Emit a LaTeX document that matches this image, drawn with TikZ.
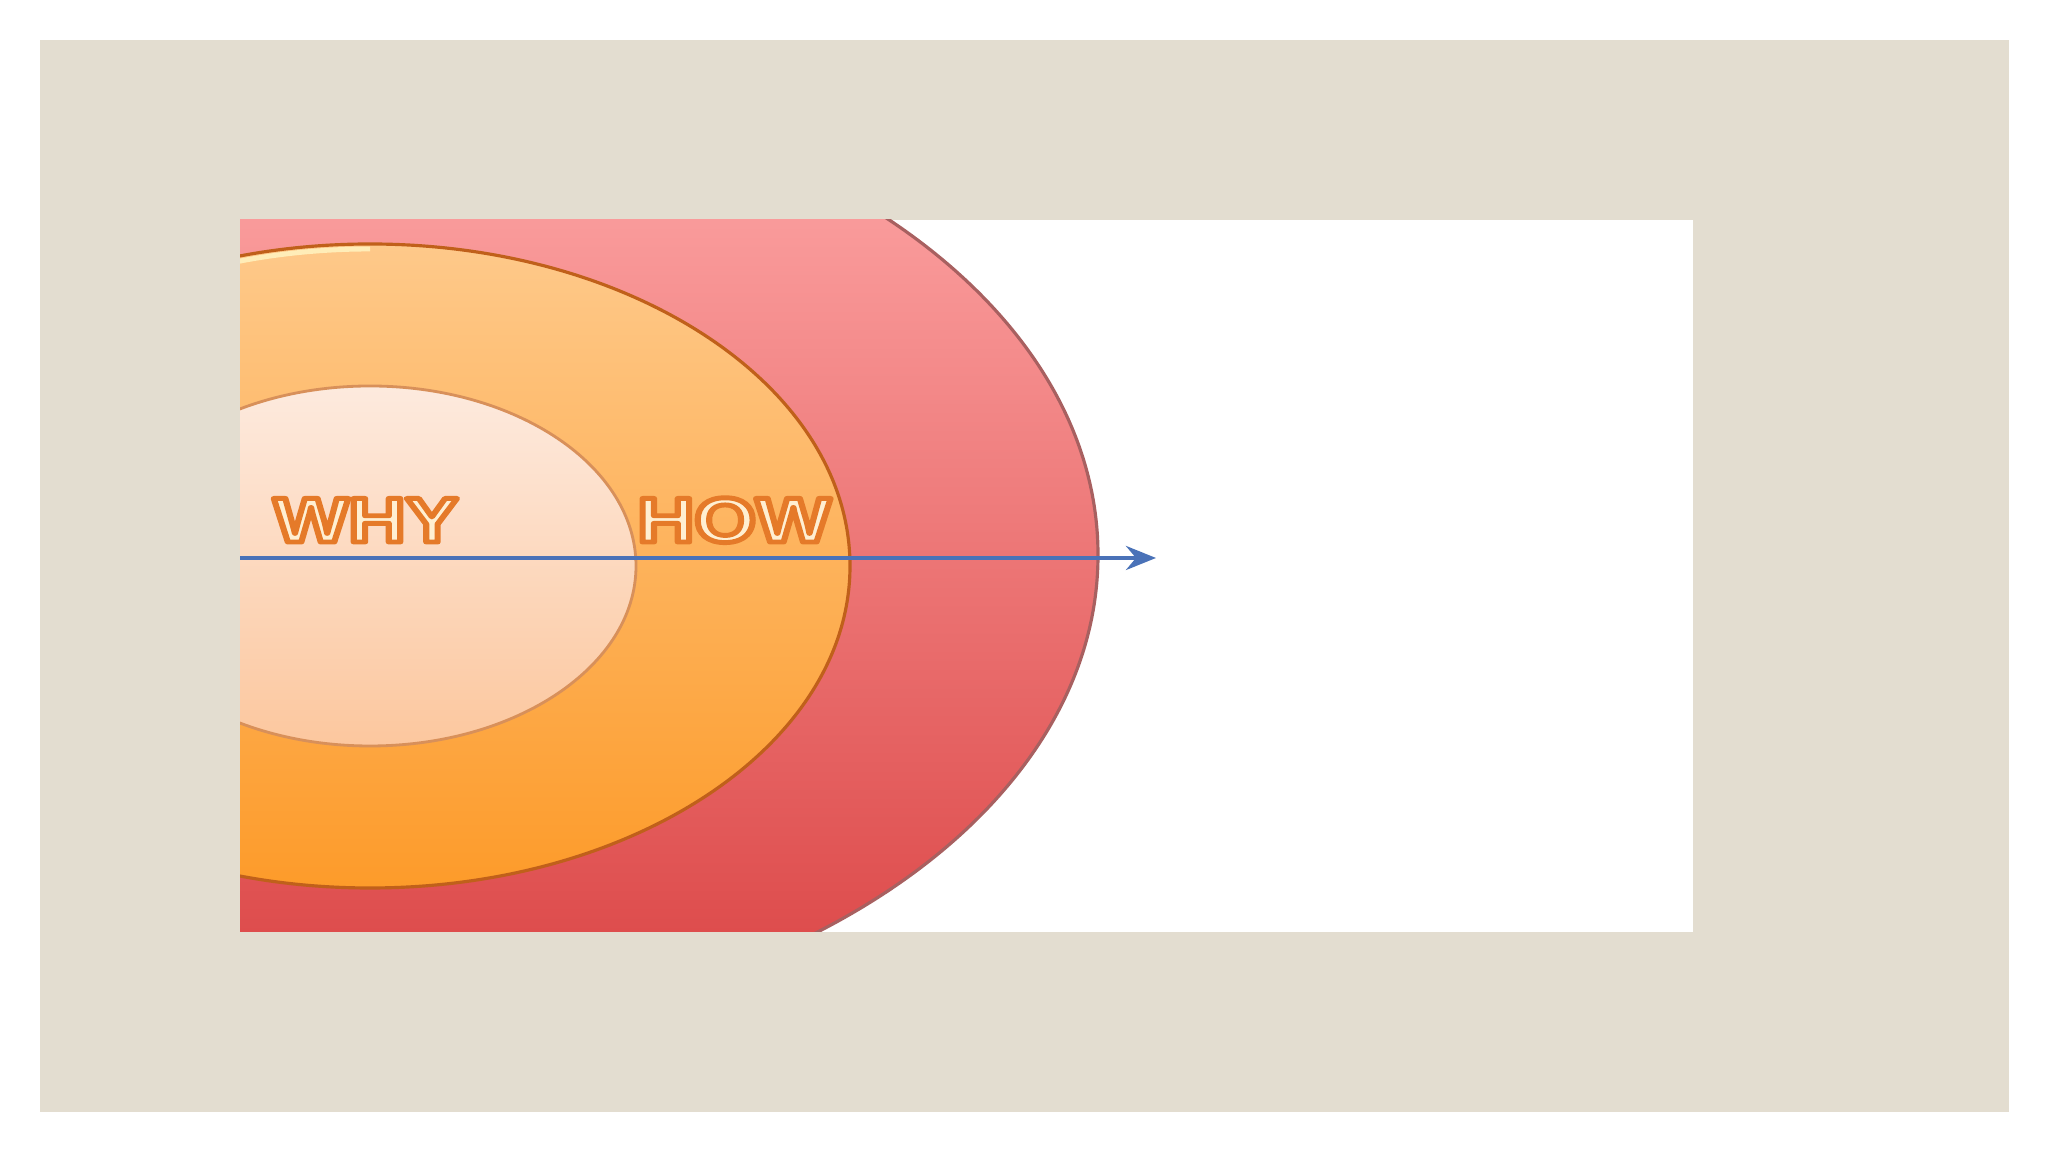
\documentclass[tikz,border=0pt]{standalone}
\usepackage{fontspec}
\setmainfont{Liberation Sans}
\newfontfamily\wordfont{Liberation Sans}
\usepackage{graphicx}
\usetikzlibrary{arrows.meta}
\definecolor{beige}{HTML}{E3DDD0}
\definecolor{redtop}{HTML}{FFAAAA}
\definecolor{redbot}{HTML}{DA4242}
\definecolor{redline}{HTML}{A86060}
\definecolor{ortop}{HTML}{FEC98A}
\definecolor{orbot}{HTML}{FD9B2A}
\definecolor{orline}{HTML}{C0601A}
\definecolor{intop}{HTML}{FDEADE}
\definecolor{inbot}{HTML}{FCC79E}
\definecolor{inline}{HTML}{D8905A}
\definecolor{hilite}{HTML}{FFEDB8}
\definecolor{arrowblue}{HTML}{4A72B8}
\definecolor{txtfill}{HTML}{FFEFD2}
\newcommand{\ringword}[1]{\scalebox{1.25}[1.0]{\fontsize{18pt}{20pt}\wordfont\bfseries\color{txtfill}\special{pdf:literal direct 2 Tr 1.4 w 1 j 0.900 0.480 0.160 RG}#1\special{pdf:literal direct 0 Tr 0 j}}}
\begin{document}
\begin{tikzpicture}[x=0.01cm,y=0.01cm,
  ringtext/.style={inner sep=0pt, anchor=base}]
\useasboundingbox (0,0) rectangle (2048,1152);
\fill[white] (0,0) rectangle (2048,1152);
\fill[beige] (40,40) rectangle (2009,1112);
\fill[white] (240,220) rectangle (1693,932);
\begin{scope}
  \clip (240,220) rectangle (1693,932);
  \shade[top color=redtop, bottom color=redbot] (370,597) ellipse [x radius=728, y radius=478];
  \draw[redline, line width=0.9pt] (370,597) ellipse [x radius=728, y radius=478];
  \shade[top color=ortop, bottom color=orbot] (370,586) ellipse [x radius=480, y radius=322];
  \draw[orline, line width=0.9pt] (370,586) ellipse [x radius=480, y radius=322];
  \draw[hilite, line width=1.4pt] (370,586) ++(90:475 and 317) arc[start angle=90, end angle=150, x radius=475, y radius=317];
  \shade[top color=intop, bottom color=inbot] (370,586) ellipse [x radius=266, y radius=180];
  \draw[inline, line width=0.8pt] (370,586) ellipse [x radius=266, y radius=180];
\end{scope}
\node[ringtext] (why) at (366,610) {\ringword{WHY}};
\node[ringtext] (how) at (734,610) {\ringword{HOW}};
\coordinate (astart) at (240,594);
\coordinate (aend) at (1156,594);
\draw[arrowblue, line width=1.2pt, -{Stealth[length=0.3cm, width=0.24cm, inset=0.1cm]}] (astart) -- (aend);
\end{tikzpicture}
\end{document}
